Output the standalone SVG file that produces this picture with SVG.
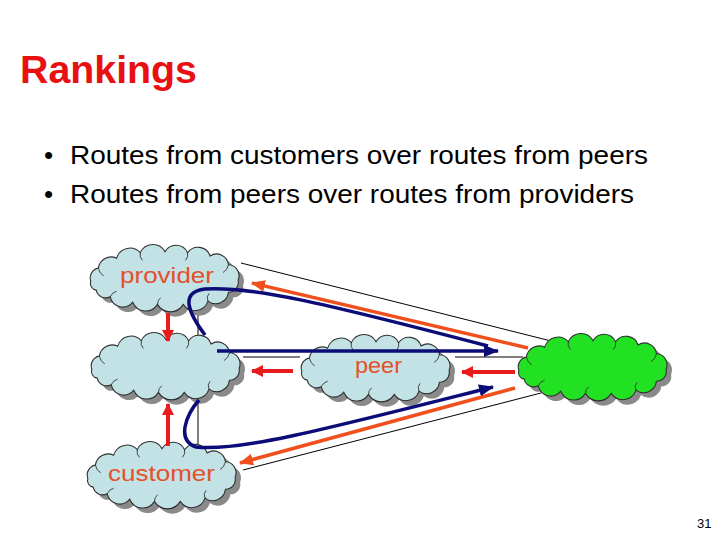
<svg xmlns="http://www.w3.org/2000/svg" width="720" height="540" viewBox="0 0 720 540">
<style>
.title{font-family:"Liberation Sans",Arial,sans-serif;font-weight:bold;font-size:38px;fill:#e81010}
.bul{font-family:"Liberation Sans",Arial,sans-serif;font-size:26px;fill:#000}
.lbl{font-family:"Liberation Sans",Arial,sans-serif;font-size:22px;fill:#e4502a}
.pg{font-family:"Liberation Sans",Arial,sans-serif;font-size:13px;fill:#000}
.shadow{fill:#8a8a8a}
.cloud{fill:#c2e2e6;stroke:#303030;stroke-width:1}
.cloud.g{fill:#22e022}
.curl{fill:none;stroke:#303030;stroke-width:0.8}
.thin{fill:none;stroke:#000;stroke-width:1}
.red{fill:none;stroke:#e81c1c;stroke-width:4;marker-end:url(#mRed)}
.org{fill:none;stroke:#f0501e;stroke-width:3.5;marker-end:url(#mOrg)}
.blu{fill:none;stroke:#0c0c78;stroke-width:3.5}
.blu.a{marker-end:url(#mBlu)}
</style>
<defs>
<path id="cl0" d="M-69,3 A9,9 0 0 1 -62,-9 A12,12 0 0 1 -45,-18 A13,13 0 0 1 -23,-23 A13,13 0 0 1 0,-24 A12,12 0 0 1 21,-23 A12,12 0 0 1 42,-20 A11,11 0 0 1 59,-12 A10,10 0 0 1 68,2 A9,9 0 0 1 59,13 A12,12 0 0 1 40,21 A13,13 0 0 1 17,24 A14,14 0 0 1 -7,24 A13,13 0 0 1 -30,22 A12,12 0 0 1 -51,17 A9,9 0 0 1 -64,11 A6,6 0 0 1 -69,3 Z"/>
<g id="cl"><use href="#cl0" transform="scale(1.075,1.1)"/></g>
<path id="cu" transform="scale(1.075,1.1)" d="M-62,-9 q1,5 5,7 M-23,-23 q-1,4 2,7 M21,-23 q1,4 -2,7 M59,-12 q-1,5 -5,7 M40,21 q-2,-4 1,-7 M-7,24 q0,-4 3,-6 M-51,17 q2,-4 6,-5"/>
<marker id="mRed" markerUnits="userSpaceOnUse" markerWidth="12" markerHeight="12" refX="11" refY="6" orient="auto"><path d="M0,0 L12,6 L0,12 Z" fill="#e81c1c"/></marker>
<marker id="mOrg" markerUnits="userSpaceOnUse" markerWidth="14" markerHeight="12" refX="13" refY="6" orient="auto"><path d="M0,0 L14,6 L0,12 Z" fill="#f0501e"/></marker>
<marker id="mBlu" markerUnits="userSpaceOnUse" markerWidth="15" markerHeight="12" refX="14" refY="6" orient="auto"><path d="M0,0 L15,6 L0,12 Z" fill="#0c0c78"/></marker>
</defs>
<rect width="720" height="540" fill="#fff"/>
<text class="title" x="20" y="83" textLength="177" lengthAdjust="spacingAndGlyphs">Rankings</text>
<text class="bul" x="44" y="164">•</text>
<text class="bul" x="70" y="164" textLength="578" lengthAdjust="spacingAndGlyphs">Routes from customers over routes from peers</text>
<text class="bul" x="44" y="203">•</text>
<text class="bul" x="70" y="203" textLength="564" lengthAdjust="spacingAndGlyphs">Routes from peers over routes from providers</text>
<g id="edges">
<path class="thin" d="M241,263 L563,344"/>
<path class="thin" d="M198,306 L198,340"/>
<path class="thin" d="M198,398 L198,446"/>
<path class="thin" d="M243,357 L300,357 M455,357 L523,357"/>
<path class="thin" d="M243,470 L541,393"/>
</g>
<g id="node-provider" transform="translate(165,278)">
<use href="#cl" class="shadow" x="5" y="5"/><use href="#cl" class="cloud"/><use href="#cu" class="curl"/>
<text class="lbl" x="-45" y="5" textLength="94" lengthAdjust="spacingAndGlyphs">provider</text>
</g>
<g id="node-self" transform="translate(166,366)">
<use href="#cl" class="shadow" x="5" y="5"/><use href="#cl" class="cloud"/><use href="#cu" class="curl"/>
</g>
<g id="node-peer" transform="translate(376,368)">
<use href="#cl" class="shadow" x="5" y="5"/><use href="#cl" class="cloud"/><use href="#cu" class="curl"/>
<text class="lbl" x="-21" y="5" textLength="47" lengthAdjust="spacingAndGlyphs">peer</text>
</g>
<g id="node-dest" transform="translate(593,367)">
<use href="#cl" class="shadow" x="5" y="5"/><use href="#cl" class="cloud g"/><use href="#cu" class="curl"/>
</g>
<g id="node-customer" transform="translate(162,475)">
<use href="#cl" class="shadow" x="5" y="5"/><use href="#cl" class="cloud"/><use href="#cu" class="curl"/>
<text class="lbl" x="-54" y="6" textLength="107" lengthAdjust="spacingAndGlyphs">customer</text>
</g>
<g id="connectors">
<path class="red" d="M168,313 L168,341"/>
<path class="red" d="M168,446 L168,404"/>
<path class="red" d="M293,371 L252,371"/>
<path class="red" d="M515,372 L462,372"/>
<path class="org" d="M528,348 L252,283"/>
<path class="org" d="M515,388 L240,463"/>
<path class="blu" d="M205,335 C190,315 178,292 205,289 C250,286 320,302 488,346"/>
<path class="blu a" d="M217,351 L498,351"/>
<path class="blu a" d="M199,400 C186,415 176,440 196,447 C240,452 330,428 493,387"/>
</g>
<text class="pg" x="697" y="528">31</text>
</svg>
